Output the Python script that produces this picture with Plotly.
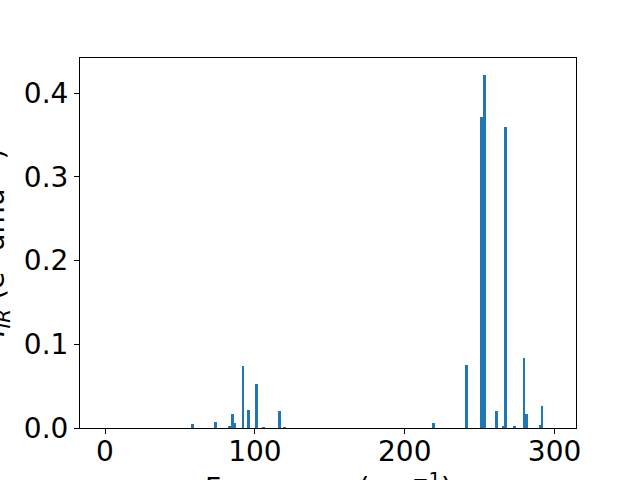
import plotly.graph_objects as go

frequencies = [58.3, 73.5, 83.2, 84.8, 86.3, 92.1, 95.5, 100.9, 105.5, 116.2, 119.8,
               219.1, 241.0, 251.5, 253.3, 261.0, 266.1, 267.0, 273.0, 279.6, 281.2, 290.5, 291.6]
intensities = [0.0048, 0.0072, 0.0025, 0.0167, 0.0060, 0.0745, 0.0215, 0.0525, 0.0012, 0.0203, 0.0012,
               0.0064, 0.0752, 0.3713, 0.4215, 0.0207, 0.0024, 0.3594, 0.0016, 0.0840, 0.0171, 0.0040, 0.0267]
x_ticks = [0, 100, 200, 300]
y_ticks = [0.0, 0.1, 0.2, 0.3, 0.4]
x_label = "Frequency (cm<sup>−1</sup>)"
y_label = "<i>I</i><sub><i>IR</i></sub> (e<sup>2</sup> amu<sup>−1</sup>)"

fig = go.Figure()
fig.add_trace(go.Bar(x=frequencies, y=intensities, width=1.9,
                     marker=dict(color="#1f77b4", line=dict(width=0))))

font = dict(family="DejaVu Sans", size=28, color="black")
axis_common = dict(showline=True, linecolor="black", linewidth=1, mirror=True,
                   ticks="outside", ticklen=5, tickwidth=1, tickcolor="black",
                   showgrid=False, zeroline=False, tickfont=font)

fig.update_layout(
    width=640, height=480,
    margin=dict(l=80, r=64, t=58, b=52, autoexpand=False),
    paper_bgcolor="white", plot_bgcolor="white",
    showlegend=False, bargap=0,
    xaxis=dict(range=[-16.7, 314.3], tickvals=x_ticks, ticktext=[str(v) for v in x_ticks],
               automargin=False, ticklabelstandoff=-7, **axis_common),
    yaxis=dict(range=[0, 0.4418], tickvals=y_ticks, ticktext=[f"{v:.1f}" for v in y_ticks],
               automargin=False, **axis_common),
    annotations=[
        dict(text=x_label, xref="paper", yref="paper", x=0.5, y=-0.103,
             xanchor="center", yanchor="top", showarrow=False, font=font),
        dict(text=y_label, xref="paper", yref="paper", x=-0.172, y=0.5,
             xanchor="center", yanchor="middle", textangle=-90, showarrow=False, font=font),
    ],
)

fig.write_html("out.html", config={"displayModeBar": False},
               post_script="document.body.style.margin='0';document.body.style.overflow='hidden';")
